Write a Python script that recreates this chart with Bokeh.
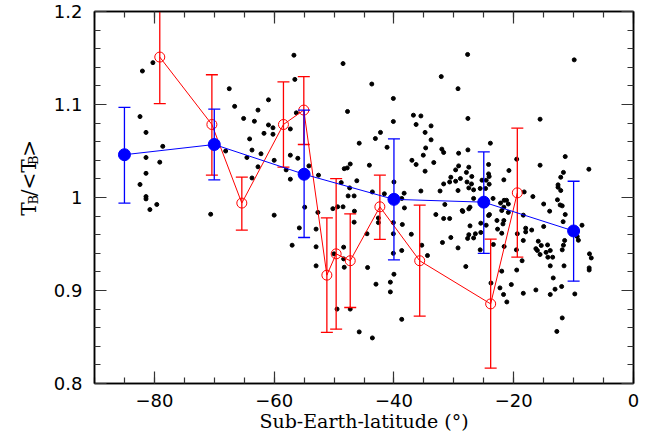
from bokeh.plotting import figure
from bokeh.layouts import row
from bokeh.models import LinearAxis, CustomJSTickFormatter, FixedTicker, Range1d
from bokeh.core.properties import value
from bokeh.embed import file_html
from bokeh.resources import INLINE

# ---- individual measurements (black dots) ----
dot_x = [-82.0, -80.25, -67.5, -60.95, -66.6, -62.7, -82.4, -65.1, -63.3, -60.95, -60.2, -81.4,
         -61.7, -60.2, -64.1, -78.6, -68.1, -63.7, -62.2, -64.55, -81.4, -79.1, -60.0, -62.7,
         -81.4, -63.7, -82.4, -81.4, -81.4, -80.75, -79.6, -70.6, -60.0,
         -56.7, -48.5, -56.55, -43.7, -32.1, -40.1, -47.75, -56.3, -40.1, -36.75, -35.5, -36.3,
         -33.8, -57.3, -42.25, -43.1, -34.8, -33.8, -45.8, -41.15, -34.7, -32.0, -31.7, -57.3,
         -56.05, -35.1, -37.0, -36.3, -33.35, -44.1, -47.3, -47.8, -48.3, -58.0, -34.8, -54.2,
         -52.6, -57.3, -46.2, -48.8, -47.4, -30.5, -30.7, -31.7, -35.5, -32.3, -38.3, -43.6,
         -41.6, -47.65, -46.65, -40.0,
         -54.9, -52.7, -50.2, -49.4, -48.5, -46.6, -46.65, -55.8, -53.0, -57.0, -53.0, -48.4,
         -50.0, -48.4, -48.3, -53.0, -44.5, -44.4, -43.0, -42.6, -42.6, -40.1, -38.6, -38.25,
         -38.7, -40.1, -37.1, -38.7, -40.1, -35.35, -34.4, -40.0, -40.6, -40.6, -49.5, -47.3,
         -38.7, -45.8, -43.6, -33.0, -31.5, -31.7, -30.7, -30.5, -31.9, -28.5,
         -27.7, -9.9, -29.3, -27.65, -15.6, -23.9, -29.2, -27.65, -11.4, -19.5, -15.6, -7.45,
         -24.2, -29.2, -27.5, -20.8, -27.9, -29.7, -24.2, -24.1, -27.0, -28.9, -11.7, -12.15,
         -21.65, -25.3, -24.6, -29.7, -27.8, -27.05, -24.1, -12.6, -12.6, -27.5, -26.7, -25.6,
         -24.7, -29.3, -12.15, -18.25, -16.8,
         -26.7, -23.45, -21.6, -21.2, -12.7, -22.2, -20.9, -15.0, -12.25, -11.9, -27.3, -27.5,
         -21.65, -22.0, -20.9, -14.0, -28.6, -24.05, -24.2, -18.4, -11.4, -22.8, -21.65, -21.8,
         -11.75, -25.5, -24.6, -27.3, -8.6, -18.0, -18.0, -17.0, -15.0, -22.7, -19.4, -25.5,
         -27.5, -26.4, -26.7, -27.7, -22.0, -9.4, -9.2, -18.4, -15.9, -15.4, -14.35, -11.5,
         -11.7, -29.3, -23.4, -21.6, -19.55, -16.3, -16.05, -15.6, -13.9, -11.9, -14.6, -25.6,
         -7.35, -7.05, -14.3, -13.5, -18.6, -11.6, -13.9, -28.0, -22.0, -19.5, -7.4, -7.4,
         -13.4, -23.8, -20.4, -12.0, -22.3, -13.1, -16.3, -18.4, -21.7, -13.9, -9.8, -21.15,
         -11.9, -12.8]
dot_y = [1.136, 1.145, 1.117, 1.105, 1.098, 1.094, 1.087, 1.085, 1.082, 1.078, 1.075, 1.070,
         1.069, 1.068, 1.063, 1.055, 1.050, 1.051, 1.047, 1.043, 1.043, 1.038, 1.040, 1.033,
         1.026, 1.021, 1.014, 1.001, 0.9985, 0.987, 0.9925, 0.982, 0.981,
         1.153, 1.144, 1.127, 1.122, 1.130, 1.1065, 1.0925, 1.091, 1.0817, 1.0885, 1.0877, 1.0785,
         1.077, 1.0737, 1.070, 1.0634, 1.070, 1.062, 1.0584, 1.054, 1.0533, 1.052, 1.0484, 1.0455,
         1.0422, 1.0455, 1.040, 1.0355, 1.0376, 1.0347, 1.036, 1.0318, 1.031, 1.0297, 1.0283, 1.034,
         1.024, 1.0197, 1.018, 1.016, 1.0103, 1.0218, 1.0167, 1.0146, 1.007, 1.007, 1.0046, 1.006,
         1.004, 1.0017, 1.0017, 1.0167,
         0.9896, 0.984, 0.988, 0.990, 0.990, 0.9853, 0.9735, 0.9673, 0.966, 0.9487, 0.947, 0.9466,
         0.9394, 0.934, 0.925, 0.9265, 0.961, 0.9247, 0.9068, 0.978, 0.973, 0.973, 0.971, 0.9888,
         0.999, 0.961, 0.9605, 0.943, 0.940, 0.9487, 0.9376, 0.9175, 0.909, 0.8985, 0.880, 0.880,
         0.869, 0.8555, 0.849, 0.9817, 0.9925, 0.9774, 0.9774, 0.957, 0.9516, 0.985,
         1.1538, 1.148, 1.117, 1.085, 1.0842, 1.0584, 1.0476, 1.0512, 1.044, 1.0412, 1.0347, 1.0304,
         1.0355, 1.034, 1.0326, 1.029, 1.027, 1.0297, 1.0254, 1.0226, 1.0226, 1.0204, 1.027, 1.0218,
         1.019, 1.0186, 1.0186, 1.0175, 1.0167, 1.0146, 1.0143, 1.0136, 1.011, 1.0103, 1.0082, 1.0097,
         1.0097, 1.0075, 1.0075, 1.006, 1.001,
         0.999, 0.999, 0.997, 0.997, 0.9975, 0.994, 0.993, 0.993, 0.992, 0.991, 0.9896, 0.9878,
         0.9896, 0.986, 0.984, 0.9853, 0.986, 0.9817, 0.9806, 0.981, 0.9817, 0.9753, 0.9753, 0.9716,
         0.974, 0.9724, 0.9702, 0.9695, 0.9702, 0.967, 0.963, 0.965, 0.9688, 0.966, 0.961, 0.9624,
         0.960, 0.961, 0.9565, 0.956, 0.9616, 0.958, 0.954, 0.9538, 0.953, 0.9484, 0.949, 0.9538,
         0.9487, 0.9458, 0.9495, 0.9473, 0.9437, 0.945, 0.943, 0.9387, 0.943, 0.9437, 0.941, 0.9437,
         0.9394, 0.935, 0.9358, 0.9358, 0.932, 0.9265, 0.9265, 0.9258, 0.9208, 0.922, 0.9243, 0.922,
         0.9135, 0.908, 0.9064, 0.9043, 0.9028, 0.9014, 0.9006, 0.897, 0.8957, 0.8957, 0.8963, 0.8877,
         0.8705, 0.856]

# ---- blue binned means (filled circles) ----
blue_x = [-85, -70, -55, -40, -25, -10]
blue_y = [1.046, 1.057, 1.025, 0.998, 0.995, 0.964]
blue_lo = [0.994, 1.019, 0.957, 0.933, 0.940, 0.910]
blue_hi = [1.097, 1.095, 1.094, 1.063, 1.049, 1.0175]

# ---- red values (open circles) ----
red_x = [-79.1, -70.4, -65.4, -58.45, -55.05, -51.2, -49.65, -47.3, -42.35, -35.7, -23.85, -19.4]
red_y = [1.151, 1.0785, 0.994, 1.0785, 1.094, 0.9165, 0.9394, 0.932, 0.990, 0.932, 0.8856, 1.005]
red_lo = [1.101, 1.024, 0.965, 1.0326, 1.057, 0.855, 0.8584, 0.8817, 0.955, 0.8724, 0.8165, 0.9358]
red_hi = [1.201, 1.132, 1.022, 1.1243, 1.130, 0.978, 1.0204, 0.9824, 1.024, 0.9917, 0.9552, 1.0745]

# ---- axes ----
x_ticks = [-80, -60, -40, -20, 0]
x_minor = [-90 + 5 * i for i in range(19)]
y_ticks = [0.8, 0.9, 1.0, 1.1, 1.2]
y_minor = [round(0.8 + 0.02 * i, 2) for i in range(21)]
x_title = "Sub-Earth-latitude (°)"
# y title  T_B / <T_B>  as (text, is_subscript)
y_title_parts = [("T", False), ("B", True), ("/<T", False), ("B", True), (">", False)]

LABEL_W = 40

p = figure(frame_width=539, frame_height=372,
           x_range=Range1d(-90, 0), y_range=Range1d(0.8, 1.2),
           output_backend="svg", toolbar_location=None,
           min_border_left=94 - LABEL_W, min_border_right=16, min_border_top=11,
           min_border_bottom=54,
           background_fill_color="white", border_fill_color="white")
p.grid.visible = False
p.outline_line_color = "black"
p.outline_line_width = 1.5


def style_axis(ax, labels=True):
    ax.axis_line_color = "black"
    ax.axis_line_width = 1.5
    ax.major_tick_in = 12
    ax.major_tick_out = 0
    ax.minor_tick_in = 6
    ax.minor_tick_out = 0
    ax.major_tick_line_color = "#333333"
    ax.minor_tick_line_color = "#333333"
    ax.major_tick_line_width = 1.2
    ax.minor_tick_line_width = 1.2
    if labels:
        ax.major_label_text_font = "DejaVu Sans"
        ax.major_label_text_font_size = "18px"
        ax.major_label_text_color = "black"
    else:
        ax.formatter = CustomJSTickFormatter(code="return ''")
        ax.major_label_text_font_size = "1px"
        ax.major_label_standoff = 0


p.xaxis.ticker = FixedTicker(ticks=x_ticks, minor_ticks=x_minor)
p.yaxis.ticker = FixedTicker(ticks=y_ticks, minor_ticks=y_minor)
p.xaxis.formatter = CustomJSTickFormatter(
    code="const v = Math.round(tick); return v < 0 ? '\\u2212' + String(-v) : String(v);")
p.yaxis.formatter = CustomJSTickFormatter(code="return String(Math.round(tick*10)/10);")
style_axis(p.xaxis[0])
style_axis(p.yaxis[0])
p.xaxis.major_label_standoff = 10
p.yaxis.major_label_standoff = 12
p.xaxis.axis_label = x_title
p.xaxis.axis_label_standoff = 0
p.xaxis.axis_label_text_font = "DejaVu Serif"
p.xaxis.axis_label_text_font_size = "19px"
p.xaxis.axis_label_text_font_style = "normal"
p.xaxis.axis_label_text_color = "black"

top = LinearAxis(ticker=FixedTicker(ticks=x_ticks, minor_ticks=x_minor))
right = LinearAxis(ticker=FixedTicker(ticks=y_ticks, minor_ticks=y_minor))
style_axis(top, labels=False)
style_axis(right, labels=False)
p.add_layout(top, "above")
p.add_layout(right, "right")

# ---- data ----
p.scatter(dot_x, dot_y, size=4, color="black")

p.line(red_x, red_y, line_color="red", line_width=1)
p.segment(red_x, red_lo, red_x, red_hi, line_color="red", line_width=1.3)
p.scatter(red_x, red_lo, marker="dash", size=12, line_color="red", line_width=1.3)
p.scatter(red_x, red_hi, marker="dash", size=12, line_color="red", line_width=1.3)
p.scatter(red_x, red_y, marker="circle", size=10, line_color="red", line_width=1, fill_alpha=0)

p.line(blue_x, blue_y, line_color="blue", line_width=1)
p.segment(blue_x, blue_lo, blue_x, blue_hi, line_color="blue", line_width=1.3)
p.scatter(blue_x, blue_lo, marker="dash", size=12, line_color="blue", line_width=1.3)
p.scatter(blue_x, blue_hi, marker="dash", size=12, line_color="blue", line_width=1.3)
p.scatter(blue_x, blue_y, marker="circle", size=12, color="blue")

# ---- y title in a narrow side panel (pixel coordinates of that panel) ----
H = 437
lab = figure(width=LABEL_W, height=H, x_range=Range1d(0, LABEL_W), y_range=Range1d(0, H),
             output_backend="svg", toolbar_location=None, min_border=0,
             x_axis_location=None, y_axis_location=None,
             background_fill_color="white", border_fill_color="white")
lab.grid.visible = False
lab.outline_line_color = None

big_px, small_px = 20, 13
adv = {"T": 0.668, "B": 0.732, "/<T": 0.337 + 0.838 + 0.668, ">": 0.838}
pos = 437 - 240.0   # start of title along the (upward) reading direction
for txt, sub in y_title_parts:
    fs = small_px if sub else big_px
    lab.text(x=[32.5 if sub else 28.5], y=[pos], text=[txt], angle=1.5707963,
             text_align="left", text_baseline="alphabetic",
             text_font=value("DejaVu Serif"), text_font_size=value(f"{fs}px"),
             text_color="black")
    pos += adv[txt] * fs

layout = row(lab, p)
open("out.html", "w").write(file_html(layout, INLINE))
